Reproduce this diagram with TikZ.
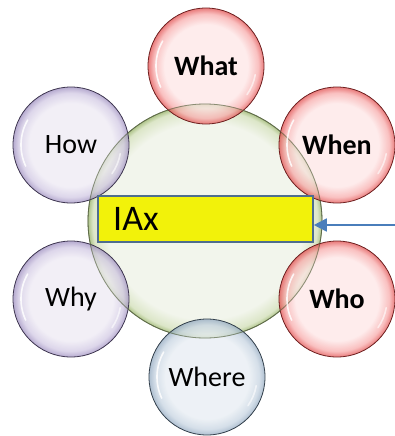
\documentclass[tikz,border=0pt]{standalone}
\usepackage{fontspec}
\setmainfont{Carlito}
\usetikzlibrary{arrows.meta,calc}
\definecolor{redin}{HTML}{FDE4E4}
\definecolor{redmid}{HTML}{F7A8A8}
\definecolor{redrim}{HTML}{E04848}
\definecolor{redline}{HTML}{6E2020}
\definecolor{lavin}{HTML}{EDE9F3}
\definecolor{lavmid}{HTML}{CFC6E2}
\definecolor{lavrim}{HTML}{9A8ABD}
\definecolor{lavline}{HTML}{3E3650}
\definecolor{bluin}{HTML}{E6ECF2}
\definecolor{blumid}{HTML}{C4D2E0}
\definecolor{blurim}{HTML}{8FA6BE}
\definecolor{bluline}{HTML}{33404C}
\definecolor{grnin}{HTML}{F2F5EC}
\definecolor{grnmid}{HTML}{DCE6C8}
\definecolor{grnrim}{HTML}{AFC48A}
\definecolor{grnline}{HTML}{5E6B48}
\definecolor{iaxyellow}{HTML}{F2F20A}
\definecolor{iaxborder}{HTML}{4F6E8E}
\definecolor{arrowblue}{HTML}{4A7EBB}
\pgfdeclareradialshading{ballred}{\pgfpoint{0bp}{0bp}}{color(0bp)=(redin); color(18bp)=(redin); color(22.5bp)=(redmid); color(25bp)=(redrim); color(50bp)=(redrim)}
\pgfdeclareradialshading{balllav}{\pgfpoint{0bp}{0bp}}{color(0bp)=(lavin); color(18bp)=(lavin); color(22.5bp)=(lavmid); color(25bp)=(lavrim); color(50bp)=(lavrim)}
\pgfdeclareradialshading{ballblu}{\pgfpoint{0bp}{0bp}}{color(0bp)=(bluin); color(18bp)=(bluin); color(22.5bp)=(blumid); color(25bp)=(blurim); color(50bp)=(blurim)}
\pgfdeclareradialshading{ballgrn}{\pgfpoint{0bp}{0bp}}{color(0bp)=(grnin); color(21bp)=(grnin); color(24bp)=(grnmid); color(25bp)=(grnrim); color(50bp)=(grnrim)}
\tikzset{
  bubble/.style={circle, minimum size=116pt, inner sep=0pt, line width=0.8pt,
    fill opacity=0.72, text opacity=1, font=\fontsize{28}{30}\selectfont},
  redbubble/.style={bubble, shading=ballred, draw=redline, font=\fontsize{28}{30}\selectfont\bfseries},
  lavbubble/.style={bubble, shading=balllav, draw=lavline},
  blububble/.style={bubble, shading=ballblu, draw=bluline},
  hubbubble/.style={circle, minimum size=234pt, inner sep=0pt, shading=ballgrn, draw=grnline, line width=0.8pt},
  gloss/.style={white, line width=1.6pt, line cap=round, opacity=0.85},
  iaxbox/.style={rectangle, minimum width=215pt, minimum height=46pt, inner sep=0pt, fill=iaxyellow, draw=iaxborder, line width=1.6pt},
  arrowline/.style={arrowblue, line width=1.6pt, -{Triangle[length=13pt,width=13pt]}}
}
\begin{document}
\begin{tikzpicture}[x=1pt,y=-1pt]
\useasboundingbox (0,0) rectangle (395,436);
\node[hubbubble] (hub) at (205,221) {};
\node[redbubble] (what) at (206,66) {What};
\node[redbubble] (when) at (337,145) {When};
\node[redbubble] (who) at (337,299) {Who};
\node[lavbubble] (how) at (71,145) {How};
\node[lavbubble] (why) at (71,299) {Why};
\node[blububble] (where) at (207,377) {Where};
% hub outline visible through the bubbles
\draw[grnline, line width=0.8pt, opacity=0.6] (hub) circle (117pt);
% glossy highlights
\foreach \n in {what,when,who,how,why,where}{
  \draw[gloss] ($(\n.center)+(150:50pt)$) arc[start angle=150, end angle=205, radius=50pt];
  \draw[gloss, opacity=0.6] ($(\n.center)+(-10:50pt)$) arc[start angle=-10, end angle=-35, radius=50pt];
}
\node[iaxbox] (iax) at (205.5,219) {};
\node[anchor=west, font=\fontsize{36}{38}\selectfont, inner sep=0pt] (iaxlabel) at (113,219) {IAx};
\coordinate (src) at (395,225);
\draw[arrowline] (src) -- (src -| iax.east);
\end{tikzpicture}
\end{document}
